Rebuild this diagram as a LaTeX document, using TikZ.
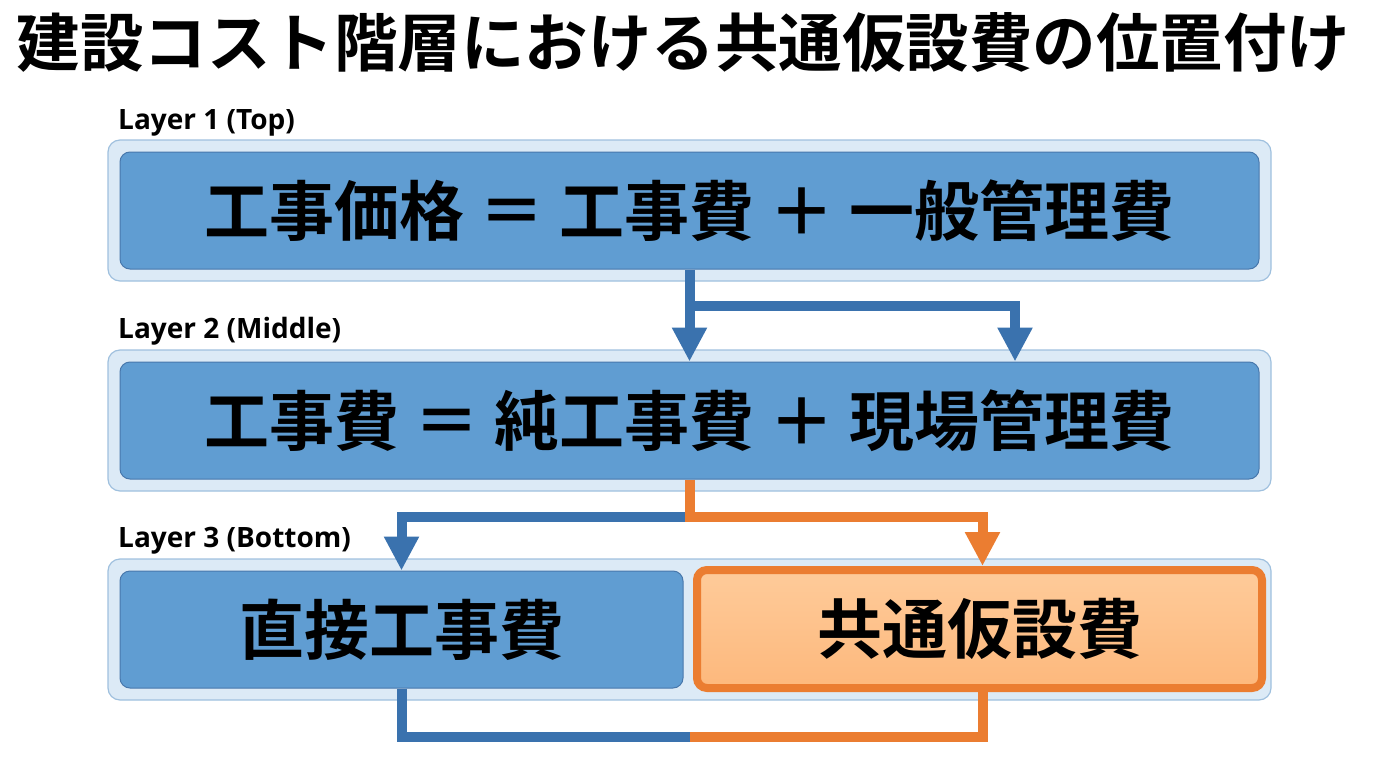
\documentclass[tikz,border=0pt]{standalone}
\usepackage{fontspec}
\setmainfont{Noto Sans CJK JP}[BoldFont={Noto Sans CJK JP Bold}]
\newfontfamily\layerfont{Open Sans}
\usetikzlibrary{arrows.meta}
\definecolor{panelfill}{HTML}{DCEAF6}
\definecolor{panelline}{HTML}{9FC0DE}
\definecolor{boxfill}{HTML}{609DD2}
\definecolor{boxline}{HTML}{4878AC}
\definecolor{arrowblue}{HTML}{3A72AE}
\definecolor{hiline}{HTML}{EB7D31}
\definecolor{hitop}{HTML}{FECB9A}
\definecolor{hibottom}{HTML}{FDB87C}

\begin{document}
\begin{tikzpicture} [
				x=1pt, y=-1pt,
				heading/.style={inner sep=0pt, font=\bfseries\fontsize{63.5}{63.5}\selectfont},
				layer/.style={anchor=west, inner sep=0pt, font=\layerfont\bfseries\fontsize{28}{28}\selectfont},
				panel/.style={draw=panelline, fill=panelfill, line width=1.2pt, rounded corners=12pt, minimum width=1163pt, minimum height=141pt, inner sep=0pt},
				costbox/.style={draw=boxline, fill=boxfill, line width=1pt, rounded corners=10pt, minimum width=1139pt, minimum height=117pt, inner sep=0pt, font=\bfseries\fontsize{65}{65}\selectfont},
				hibox/.style={costbox, draw=hiline, line width=8pt, top color=hitop, bottom color=hibottom, minimum width=565pt, minimum height=118pt},
				bluearrow/.style={draw=arrowblue, line width=10pt, -{Triangle[width=33pt,length=34pt]}},
				orangearrow/.style={bluearrow, draw=hiline},
				blueline/.style={draw=arrowblue, line width=10pt},
				orangeline/.style={blueline, draw=hiline}
			]
			\useasboundingbox (0,0) rectangle (1376,768);
			\node[heading] (title) at (683.5,42) {建設コスト階層における共通仮設費の位置付け};

			\node[layer] (lab1) at (118,123) {Layer 1 (Top)};
			\node[panel] (l1) at (689.5,210.5) {};
			\node[costbox] (top) at (689.5,210.5) {工事価格 ＝ 工事費 ＋ 一般管理費};

			\node[layer] (lab2) at (118,331) {Layer 2 (Middle)};
			\node[panel] (l2) at (689.5,420.5) {};
			\node[costbox] (mid) at (689.5,420.5) {工事費 ＝ 純工事費 ＋ 現場管理費};

			\node[layer] (lab3) at (118,541) {Layer 3 (Bottom)};
			\node[panel] (l3) at (689.5,629.5) {};
			\node[costbox, minimum width=563pt] (direct) at (401.5,629.5) {直接工事費};
			\node[hibox] (common) at (979.5,629) {共通仮設費};

			\coordinate (fork1) at (689.5,306);
			\coordinate (fork2) at (689.5,517);
			\coordinate (join) at (690,737);

			\draw[bluearrow] (top.south) -- (mid.north);
			\draw[bluearrow] (fork1) -| ([xshift=325.5pt]mid.north);
			\draw[bluearrow] (fork2) -| (direct.north);
			\draw[orangearrow] (mid.south) -- (fork2) -| ([xshift=3pt]common.north);
			\draw[blueline] (direct.south) |- (join);
			\draw[orangeline] ([xshift=3pt]common.south) |- (join);
		\end{tikzpicture}
\end{document}
